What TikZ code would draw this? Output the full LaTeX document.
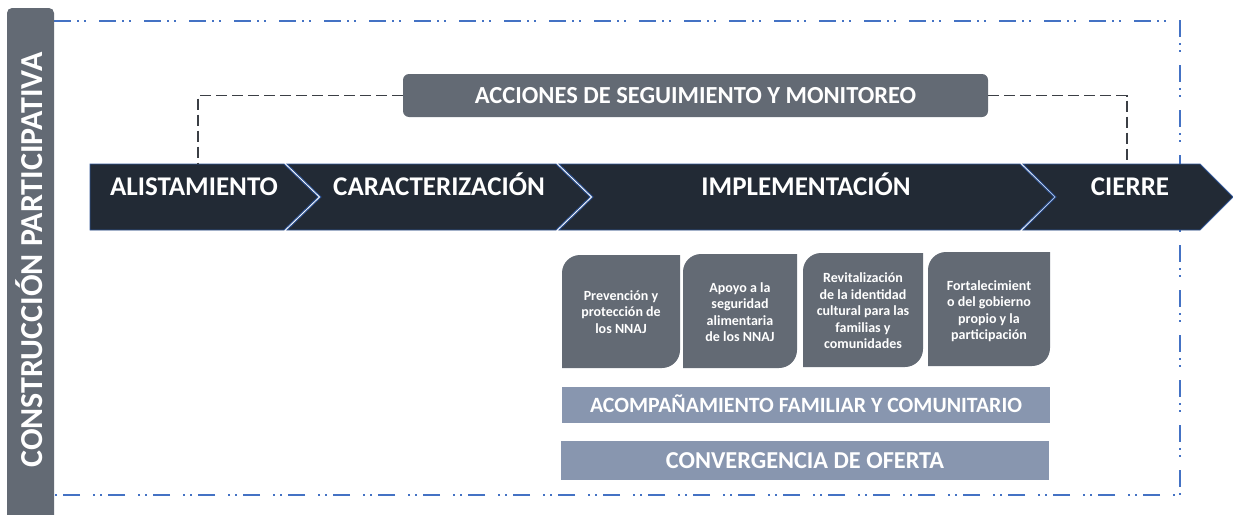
\documentclass[tikz,border=0pt]{standalone}
\usepackage{fontspec}
\setmainfont{Carlito}
\usepackage{tikz}
\usetikzlibrary{calc}
\definecolor{azulMarco}{HTML}{4472C4}
\definecolor{azulBorde}{HTML}{2F5597}
\definecolor{fondoFlecha}{HTML}{222A35}
\definecolor{grisCaja}{HTML}{636A74}
\definecolor{grisBarra}{HTML}{8896AF}
\definecolor{grisLinea}{HTML}{3B3F45}

\begin{document}
\begin{tikzpicture}[x=1pt,y=1pt,
  flecha/.style={fill=fondoFlecha,draw=azulBorde,line width=0.9pt},
  etapa/.style={text=white,font=\fontsize{27}{29}\selectfont\bfseries,inner sep=0pt,text height=17.4pt,text depth=0pt},
  barra/.style={fill=grisBarra,text=white,inner sep=0pt,minimum width=488,text depth=0pt},
  texto/.style={text=white,font=\fontsize{14}{16.5}\selectfont\bfseries,align=center,inner sep=0pt},
  conector/.style={grisLinea,line width=1.5pt,dash pattern=on 11pt off 5pt}]
\useasboundingbox (0,0) rectangle (1233,-514);
% marco punteado
\draw[azulMarco,line width=2.2pt,dash pattern=on 17pt off 6pt on 2pt off 5pt on 2pt off 13pt]
  (54,-21) -- (1180,-21) -- (1180,-495) -- (54,-495);
% barra lateral
\fill[grisCaja,rounded corners=5pt] (7,-530) rectangle (54,-8);
\node[rotate=90,text=white,font=\fontsize{32}{34}\selectfont\bfseries,inner sep=0pt,text height=20.6pt,text depth=0pt]
  (construccion) at (32,-260) {CONSTRUCCIÓN PARTICIPATIVA};
% etapas
\filldraw[flecha] (90,-164) -- (284,-164) -- (318,-197) -- (284,-230) -- (90,-230) -- cycle;
\filldraw[flecha] (287,-164) -- (556,-164) -- (590,-197) -- (556,-230) -- (287,-230) -- (321,-197) -- cycle;
\filldraw[flecha] (559,-164) -- (1020,-164) -- (1054,-197) -- (1020,-230) -- (559,-230) -- (593,-197) -- cycle;
\filldraw[flecha] (1023,-164) -- (1200,-164) -- (1233,-197) -- (1200,-230) -- (1023,-230) -- (1056,-197) -- cycle;
\node[etapa] (alis) at (194,-187) {ALISTAMIENTO};
\node[etapa] (carac) at (439,-187) {CARACTERIZACIÓN};
\node[etapa] (implem) at (806,-187) {IMPLEMENTACIÓN};
\node[etapa] (cierre) at (1130,-187) {CIERRE};
% seguimiento
\node[fill=grisCaja,rounded corners=6pt,minimum width=585,minimum height=43,inner sep=0pt,
  text=white,font=\fontsize{24.5}{26}\selectfont\bfseries,text height=15.8pt,text depth=0pt]
  (acciones) at (695.5,-95.5) {ACCIONES DE SEGUIMIENTO Y MONITOREO};
\coordinate (alisArriba) at (198,-164);
\coordinate (cierreArriba) at (1127,-164);
\draw[conector] (acciones.west) -| (alisArriba);
\draw[conector] (acciones.east) -| (cierreArriba);
% lineas de implementacion
\fill[grisCaja] (562,-368) -- (562,-273) arc[start angle=180,end angle=90,radius=18] -- (680,-255) -- (680,-350) arc[start angle=0,end angle=-90,radius=18] -- cycle;
\fill[grisCaja] (683,-368) -- (683,-272) arc[start angle=180,end angle=90,radius=18] -- (797,-254) -- (797,-350) arc[start angle=0,end angle=-90,radius=18] -- cycle;
\fill[grisCaja] (803,-367) -- (803,-271) arc[start angle=180,end angle=90,radius=18] -- (923,-253) -- (923,-349) arc[start angle=0,end angle=-90,radius=18] -- cycle;
\fill[grisCaja] (928,-366) -- (928,-270) arc[start angle=180,end angle=90,radius=18] -- (1050,-252) -- (1050,-348) arc[start angle=0,end angle=-90,radius=18] -- cycle;
\node[texto] (prevencion) at (621,-312) {Prevención y\\protección de\\los NNAJ};
\node[texto] (apoyo) at (740,-312) {Apoyo a la\\seguridad\\alimentaria\\de los NNAJ};
\node[texto] (revital) at (863,-311) {Revitalización\\de la identidad\\cultural para las\\familias y\\comunidades};
\node[texto] (fortal) at (989,-311) {Fortalecimient\\o del gobierno\\propio y la\\participación};
% barras inferiores
\node[barra,minimum height=36,text height=14pt,font=\fontsize{21.8}{23}\selectfont\bfseries] (acomp) at (806,-405) {ACOMPAÑAMIENTO FAMILIAR Y COMUNITARIO};
\node[barra,minimum height=39,text height=15.6pt,font=\fontsize{24.3}{26}\selectfont\bfseries] (convergencia) at (805,-460.5) {CONVERGENCIA DE OFERTA};
\end{tikzpicture}
\end{document}
